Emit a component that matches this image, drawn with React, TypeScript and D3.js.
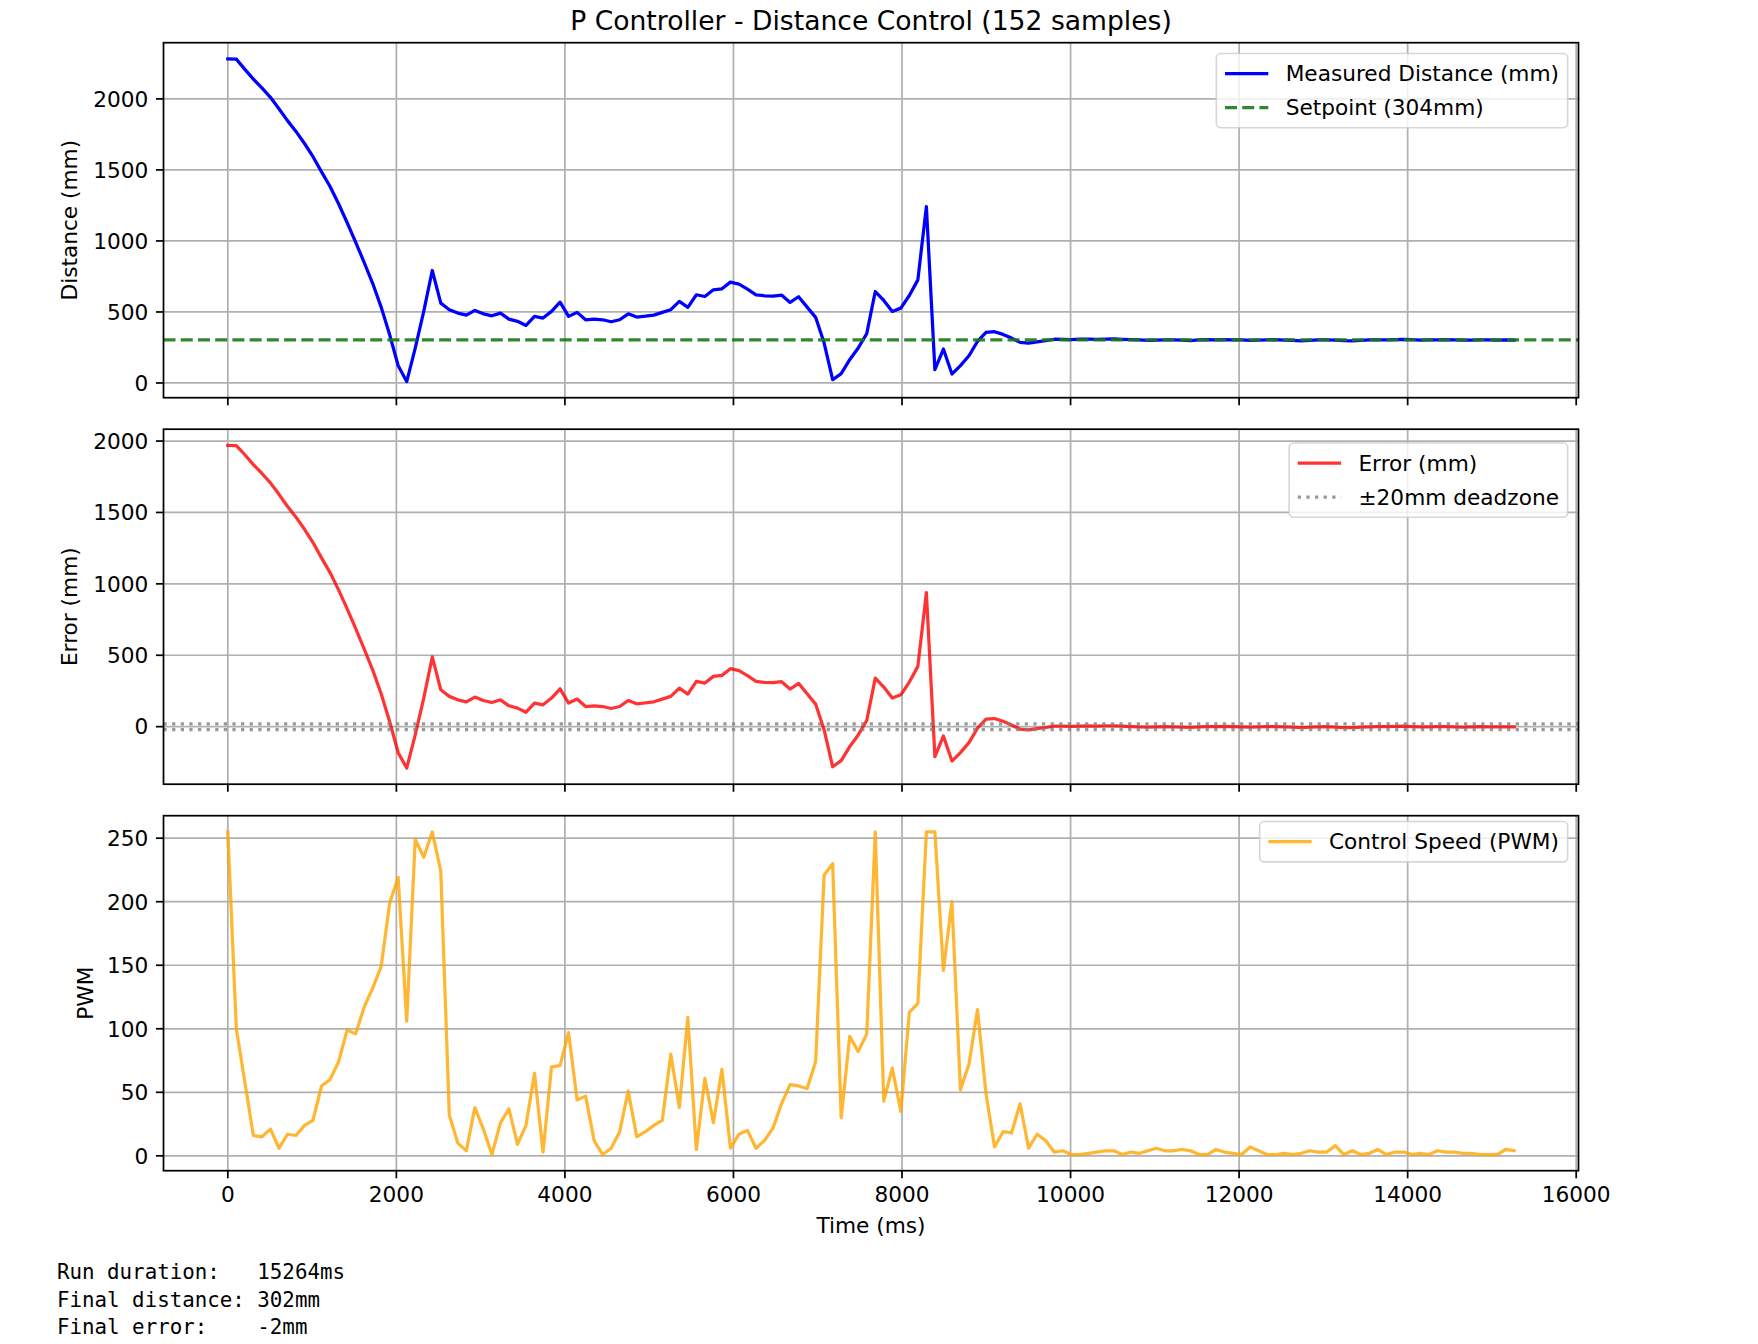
import { useEffect, useRef } from "react";
import * as d3 from "d3";

// values
const RUN_MS = 15264;
const SETPOINT_MM = 304;
const DEADZONE_MM = 20;

const timeTicks = [0, 2000, 4000, 6000, 8000, 10000, 12000, 14000, 16000];
const distanceTicks = [0, 500, 1000, 1500, 2000];
const errorTicks = [0, 500, 1000, 1500, 2000];
const pwmTicks = [0, 50, 100, 150, 200, 250];

const distanceMm = [
  2282, 2280, 2208, 2139, 2077, 2011, 1931, 1847, 1771, 1686,
  1593, 1486, 1383, 1262, 1130, 992, 849, 702, 534, 339,
  121, 10, 246, 504, 792, 562, 516, 492, 478, 511,
  487, 473, 492, 450, 434, 405, 469, 457, 504, 569,
  469, 497, 445, 450, 445, 431, 445, 487, 464, 470,
  478, 497, 516, 574, 532, 621, 609, 656, 663, 710,
  696, 661, 621, 614, 612, 619, 567, 607, 534, 462,
  281, 23, 66, 164, 246, 347, 644, 581, 504, 527,
  616, 726, 1242, 94, 239, 63, 122, 192, 293, 356,
  361, 342, 316, 286, 281, 290, 298, 308, 307, 306,
  308, 309, 307, 309, 310, 307, 305, 303, 300, 302,
  304, 303, 301, 299, 303, 305, 304, 306, 304, 303,
  300, 302, 304, 305, 302, 300, 297, 300, 303, 304,
  301, 298, 297, 300, 303, 304, 304, 306, 307, 305,
  302, 303, 304, 305, 303, 301, 302, 304, 303, 302,
  303, 302,
];

const errorMm = [
  1970, 1968, 1904, 1835, 1773, 1707, 1627, 1543, 1467, 1382,
  1289, 1182, 1079, 958, 826, 688, 545, 398, 230, 35,
  -183, -290, -58, 200, 488, 258, 212, 188, 174, 207,
  183, 169, 188, 146, 130, 101, 165, 153, 200, 265,
  165, 193, 141, 146, 141, 127, 141, 183, 160, 166,
  174, 193, 212, 270, 228, 317, 305, 352, 359, 406,
  392, 357, 317, 310, 308, 315, 263, 303, 230, 158,
  -23, -281, -238, -140, -58, 43, 340, 277, 200, 223,
  312, 422, 938, -210, -65, -241, -182, -112, -11, 52,
  57, 38, 12, -18, -23, -14, -6, 4, 3, 2,
  4, 5, 3, 5, 6, 3, 1, -1, -4, -2,
  0, -1, -3, -5, -1, 1, 0, 2, 0, -1,
  -4, -2, 0, 1, -2, -4, -7, -4, -1, 0,
  -3, -6, -7, -4, -1, 0, 0, 2, 3, 1,
  -2, -1, 0, 1, -1, -3, -2, 0, -1, -2,
  -1, -2,
];

const pwmValues = [
  255, 100, 58, 16, 15, 21, 6, 17, 16, 24,
  28, 55, 60, 74, 99, 96, 117, 132, 149, 199,
  219, 106, 249, 235, 255, 224, 32, 10, 4, 38,
  21, 1, 26, 37, 9, 24, 65, 3, 70, 71,
  97, 44, 47, 12, 1, 6, 19, 51, 15, 19,
  24, 28, 80, 38, 109, 5, 61, 26, 68, 6,
  17, 20, 6, 12, 22, 41, 56, 55, 53, 74,
  221, 230, 30, 94, 82, 96, 255, 43, 69, 35,
  113, 120, 255, 255, 146, 200, 52, 72, 115, 49,
  7, 19, 18, 41, 6, 17, 12, 3, 4, 1,
  1, 2, 3, 4, 4, 1, 3, 2, 4, 6,
  4, 4, 5, 4, 1, 1, 5, 3, 2, 1,
  7, 4, 1, 1, 2, 1, 2, 4, 3, 3,
  8, 1, 4, 1, 2, 5, 1, 3, 3, 1,
  2, 1, 4, 3, 3, 2, 2, 1, 1, 1,
  5, 4,
];

// samples are evenly spread over the run
const timeMs = distanceMm.map((_, i) => (i * RUN_MS) / (distanceMm.length - 1));

const statsLines = [
  "Run duration:   15264ms",
  "Final distance: 302mm",
  "Final error:    -2mm",
];

// figure geometry (matplotlib at ~156 dpi)
const W = 1758;
const H = 1344;
const PT = 2.1667;
const FS = 10 * PT;
const LEFT = 163.5;
const RIGHT = 1578.5;
const PANEL_H = 355;
const TOPS = [42.7, 429.2, 815.7];
const LEGEND_TOP = [0.5 * FS, 0.5 * FS + 3, 0.5 * FS - 5];
const FONT = "'DejaVu Sans', sans-serif";

type LegendItem = { label: string; color: string; dash?: string; opacity?: number };

const padded = (vals: number[]): [number, number] => {
  const [lo, hi] = d3.extent(vals) as [number, number];
  const m = (hi - lo) * 0.05;
  return [lo - m, hi + m];
};

function drawLegend(
  g: d3.Selection<SVGGElement, unknown, null, undefined>,
  right: number,
  top: number,
  items: LegendItem[]
) {
  const bp = 0.4 * FS;
  const hl = 2 * FS;
  const htp = 0.8 * FS;
  const ls = 0.5 * FS;
  const rowH = 23;
  const lg = g.append("g");
  const box = lg.append("rect");
  const texts = items.map((it) =>
    lg
      .append("text")
      .attr("font-size", FS)
      .attr("fill", "#000")
      .text(it.label)
  );
  const textW = d3.max(texts.map((t) => (t.node() as SVGTextElement).getComputedTextLength())) ?? 0;
  const w = 2 * bp + hl + htp + textW;
  const h = 2 * bp + items.length * rowH + (items.length - 1) * ls;
  const x0 = right - w;
  box
    .attr("x", x0)
    .attr("y", top)
    .attr("width", w)
    .attr("height", h)
    .attr("rx", 0.2 * FS)
    .attr("fill", "#fff")
    .attr("fill-opacity", 0.8)
    .attr("stroke", "#cccccc")
    .attr("stroke-opacity", 0.8)
    .attr("stroke-width", 1.6);
  items.forEach((it, i) => {
    const cy = top + bp + rowH / 2 + i * (rowH + ls);
    lg.append("line")
      .attr("x1", x0 + bp)
      .attr("x2", x0 + bp + hl)
      .attr("y1", cy)
      .attr("y2", cy)
      .attr("stroke", it.color)
      .attr("stroke-opacity", it.opacity ?? 1)
      .attr("stroke-width", 1.5 * PT)
      .attr("stroke-dasharray", it.dash ?? null);
    texts[i].attr("x", x0 + bp + hl + htp).attr("y", cy + 0.35 * FS);
  });
}

export default function App() {
  const ref = useRef<SVGSVGElement>(null);

  useEffect(() => {
    const svg = d3.select(ref.current);
    svg.selectAll("*").remove();
    svg.attr("font-family", FONT);

    const x = d3.scaleLinear().domain(padded(timeMs)).range([LEFT, RIGHT]);

    const greenDash = `${3.7 * 1.5 * PT},${1.6 * 1.5 * PT}`;
    const grayDots = `${1.5 * PT},${1.65 * 1.5 * PT}`;

    const panels = [
      {
        values: distanceMm,
        ticks: distanceTicks,
        label: "Distance (mm)",
        labelX: 69,
        color: "#0000ff",
        opacity: 1,
        refLines: [{ v: SETPOINT_MM, color: "#1a7a1a", dash: greenDash, opacity: 0.9 }],
        legend: [
          { label: "Measured Distance (mm)", color: "#0000ff" },
          { label: `Setpoint (${SETPOINT_MM}mm)`, color: "#1a7a1a", dash: greenDash, opacity: 0.9 },
        ] as LegendItem[],
      },
      {
        values: errorMm,
        ticks: errorTicks,
        label: "Error (mm)",
        labelX: 69,
        color: "#ff0000",
        opacity: 0.8,
        refLines: [DEADZONE_MM, -DEADZONE_MM].map((v) => ({
          v,
          color: "#808080",
          dash: grayDots,
          opacity: 0.8,
        })),
        legend: [
          { label: "Error (mm)", color: "#ff0000", opacity: 0.8 },
          { label: `±${DEADZONE_MM}mm deadzone`, color: "#808080", dash: grayDots, opacity: 0.8 },
        ] as LegendItem[],
      },
      {
        values: pwmValues,
        ticks: pwmTicks,
        label: "PWM",
        labelX: 85,
        color: "#ffa500",
        opacity: 0.8,
        refLines: [],
        legend: [{ label: "Control Speed (PWM)", color: "#ffa500", opacity: 0.8 }] as LegendItem[],
      },
    ];

    const gridColor = "#b0b0b0";
    const gridW = 0.8 * PT;
    const tickLen = 3.5 * PT;
    const tickPad = 3.5 * PT;

    panels.forEach((p, pi) => {
      const top = TOPS[pi];
      const bottom = top + PANEL_H;
      const y = d3.scaleLinear().domain(padded(p.values)).range([bottom, top]);
      const g = svg.append("g");

      const clipId = `clip-${pi}`;
      g.append("clipPath")
        .attr("id", clipId)
        .append("rect")
        .attr("x", LEFT)
        .attr("y", top)
        .attr("width", RIGHT - LEFT)
        .attr("height", PANEL_H);

      // grid
      g.selectAll(".gx")
        .data(timeTicks)
        .join("line")
        .attr("x1", (d) => x(d))
        .attr("x2", (d) => x(d))
        .attr("y1", top)
        .attr("y2", bottom)
        .attr("stroke", gridColor)
        .attr("stroke-width", gridW);
      g.selectAll(".gy")
        .data(p.ticks)
        .join("line")
        .attr("x1", LEFT)
        .attr("x2", RIGHT)
        .attr("y1", (d) => y(d))
        .attr("y2", (d) => y(d))
        .attr("stroke", gridColor)
        .attr("stroke-width", gridW);

      const plot = g.append("g").attr("clip-path", `url(#${clipId})`);
      const line = d3
        .line<number>()
        .x((_, i) => x(timeMs[i]))
        .y((d) => y(d));
      plot
        .append("path")
        .attr("d", line(p.values))
        .attr("fill", "none")
        .attr("stroke", p.color)
        .attr("stroke-opacity", p.opacity)
        .attr("stroke-width", 1.5 * PT)
        .attr("stroke-linejoin", "round")
        .attr("stroke-linecap", "square");

      p.refLines.forEach((r) => {
        plot
          .append("line")
          .attr("x1", LEFT)
          .attr("x2", RIGHT)
          .attr("y1", y(r.v))
          .attr("y2", y(r.v))
          .attr("stroke", r.color)
          .attr("stroke-opacity", r.opacity)
          .attr("stroke-width", 1.5 * PT)
          .attr("stroke-dasharray", r.dash);
      });

      // spines
      g.append("rect")
        .attr("x", LEFT)
        .attr("y", top)
        .attr("width", RIGHT - LEFT)
        .attr("height", PANEL_H)
        .attr("fill", "none")
        .attr("stroke", "#000")
        .attr("stroke-width", 0.8 * PT);

      // x tick marks (labels only on the last panel)
      g.selectAll(".xt")
        .data(timeTicks)
        .join("line")
        .attr("x1", (d) => x(d))
        .attr("x2", (d) => x(d))
        .attr("y1", bottom)
        .attr("y2", bottom + tickLen)
        .attr("stroke", "#000")
        .attr("stroke-width", 0.8 * PT);
      if (pi === panels.length - 1) {
        g.selectAll(".xl")
          .data(timeTicks)
          .join("text")
          .attr("x", (d) => x(d))
          .attr("y", bottom + tickLen + tickPad + 0.76 * FS)
          .attr("text-anchor", "middle")
          .attr("font-size", FS)
          .attr("fill", "#000")
          .text((d) => String(d));
        g.append("text")
          .attr("x", (LEFT + RIGHT) / 2)
          .attr("y", 1233)
          .attr("text-anchor", "middle")
          .attr("font-size", FS)
          .attr("fill", "#000")
          .text("Time (ms)");
      }

      // y ticks
      g.selectAll(".yt")
        .data(p.ticks)
        .join("line")
        .attr("x1", LEFT - tickLen)
        .attr("x2", LEFT)
        .attr("y1", (d) => y(d))
        .attr("y2", (d) => y(d))
        .attr("stroke", "#000")
        .attr("stroke-width", 0.8 * PT);
      g.selectAll(".yl")
        .data(p.ticks)
        .join("text")
        .attr("x", LEFT - tickLen - tickPad)
        .attr("y", (d) => y(d) + 0.36 * FS)
        .attr("text-anchor", "end")
        .attr("font-size", FS)
        .attr("fill", "#000")
        .text((d) => String(d));

      g.append("text")
        .attr("transform", `translate(${p.labelX},${(top + bottom) / 2}) rotate(-90)`)
        .attr("dy", 0.35 * FS)
        .attr("text-anchor", "middle")
        .attr("font-size", FS)
        .attr("fill", "#000")
        .text(p.label);

      drawLegend(g, RIGHT - 0.5 * FS, top + LEGEND_TOP[pi], p.legend);
    });

    svg
      .append("text")
      .attr("x", (LEFT + RIGHT) / 2)
      .attr("y", 29.5)
      .attr("text-anchor", "middle")
      .attr("font-size", 26.6)
      .attr("fill", "#000")
      .text(`P Controller - Distance Control (${distanceMm.length} samples)`);

    svg
      .append("g")
      .selectAll("text")
      .data(statsLines)
      .join("text")
      .attr("x", 57)
      .attr("y", (_, i) => 1279.3 + i * 27.5)
      .attr("font-family", "'DejaVu Sans Mono', monospace")
      .attr("font-size", 20.8)
      .attr("fill", "#000")
      .style("white-space", "pre")
      .text((d) => d);
  }, []);

  return (
    <div style={{ position: "absolute", left: 0, top: 0 }}>
      <svg ref={ref} width={W} height={H} style={{ display: "block", background: "#fff" }} />
    </div>
  );
}
